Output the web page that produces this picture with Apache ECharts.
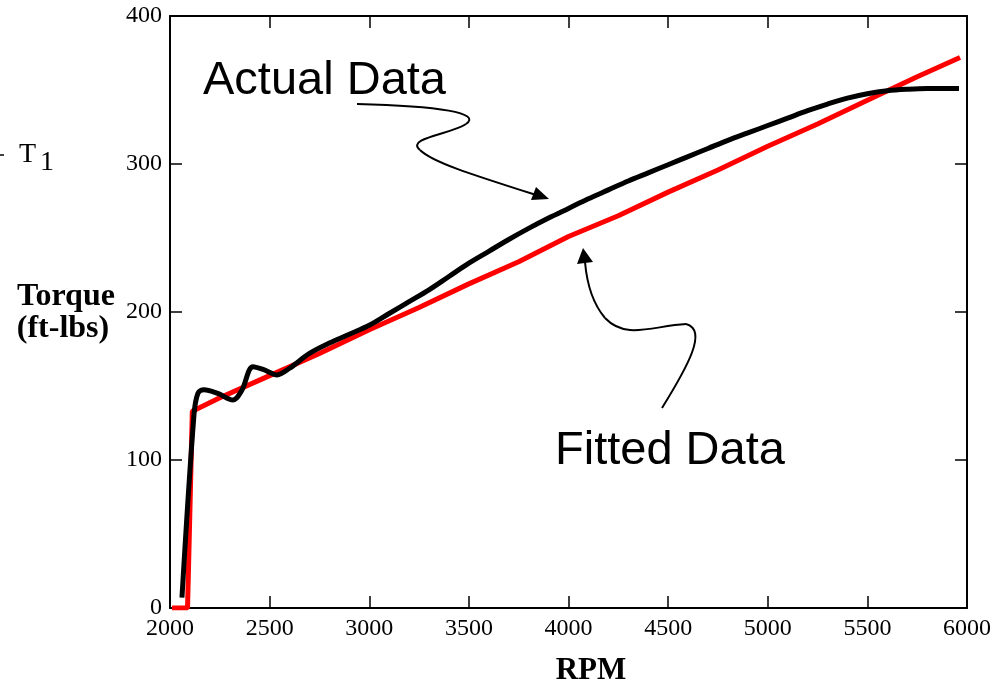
<!DOCTYPE html>
<html>
<head>
<meta charset="utf-8">
<script src="https://cdn.jsdelivr.net/npm/echarts@6/dist/echarts.min.js"></script>
<style>
html,body{margin:0;padding:0;background:#fff;}
#chart{width:997px;height:686px;}
</style>
</head>
<body>
<div id="chart"></div>
<script>
// Data
var fittedRpm = [2010, 2088, 2112, 2250, 2500, 2750, 3000, 3250, 3500, 3750, 4000, 4250, 4500, 4750, 5000, 5250, 5500, 5750, 5965];
var fittedTorque = [0, 0, 133, 142, 157, 172, 188, 203, 219, 234, 251, 265, 281, 296, 312, 327, 343, 359, 372];

var actualRpm = [2060, 2120, 2140, 2170, 2240, 2316, 2360, 2417, 2470, 2537, 2600, 2700, 2800, 2900, 3000, 3100, 3200, 3300, 3400, 3500, 3600, 3700, 3800, 3900, 4000, 4100, 4200, 4300, 4400, 4500, 4600, 4700, 4800, 4900, 5000, 5100, 5200, 5300, 5400, 5500, 5600, 5700, 5800, 5900, 5960];
var actualTorque = [7, 130, 145, 147.5, 145, 140.5, 147, 163, 161, 157.5, 162, 172, 179, 185, 191, 199, 207, 215, 224, 233, 241, 249, 256.5, 263.5, 270, 276.5, 282.5, 288.5, 294, 299.5, 305, 310.5, 316, 321, 326, 331, 336, 340.5, 344.5, 347.5, 349.5, 350.5, 351, 351, 351];

var xTicks = [2000, 2500, 3000, 3500, 4000, 4500, 5000, 5500, 6000];
var yTicks = [0, 100, 200, 300, 400];

function zip(a, b) { return a.map(function (v, i) { return [v, b[i]]; }); }

var serif = '"Liberation Serif", "Times New Roman", serif';
var sans = '"Liberation Sans", Arial, sans-serif';

var chart = echarts.init(document.getElementById('chart'), null, {renderer: 'canvas'});

function plain(v) { return String(v); }

function xAxisCfg(pos, showLabel) {
  return {
    type: 'value', position: pos, min: xTicks[0], max: xTicks[xTicks.length - 1], interval: 500,
    axisLine: {show: true, onZero: false, lineStyle: {color: '#000', width: 2}},
    axisTick: {show: true, inside: true, length: 12, lineStyle: {color: '#000', width: 1.5}},
    axisLabel: {show: showLabel, color: '#000', fontFamily: serif, fontSize: 24, margin: 9, formatter: plain},
    splitLine: {show: false}
  };
}
function yAxisCfg(pos, showLabel) {
  return {
    type: 'value', position: pos, min: yTicks[0], max: yTicks[yTicks.length - 1], interval: 100,
    axisLine: {show: true, onZero: false, lineStyle: {color: '#000', width: 2}},
    axisTick: {show: true, inside: true, length: 12, lineStyle: {color: '#000', width: 1.5}},
    axisLabel: {show: showLabel, color: '#000', fontFamily: serif, fontSize: 24, margin: 8, formatter: plain},
    splitLine: {show: false}
  };
}

function bez(x1, y1, c1x, c1y, c2x, c2y, x2, y2) {
  return {type: 'bezierCurve', shape: {x1: x1, y1: y1, cpx1: c1x, cpy1: c1y, cpx2: c2x, cpy2: c2y, x2: x2, y2: y2},
    style: {stroke: '#000', lineWidth: 2, fill: null}, silent: true};
}

var option = {
  animation: false,
  backgroundColor: '#fff',
  grid: {left: 170, right: 30, top: 16, bottom: 78, containLabel: false},
  xAxis: [xAxisCfg('bottom', true), xAxisCfg('top', false)],
  yAxis: [yAxisCfg('left', true), yAxisCfg('right', false)],
  series: [
    {type: 'line', name: 'Fitted Data', data: zip(fittedRpm, fittedTorque), showSymbol: false, symbol: 'none',
      lineStyle: {color: '#ff0000', width: 5}, z: 2},
    {type: 'line', name: 'Actual Data', data: zip(actualRpm, actualTorque), showSymbol: false, symbol: 'none', smooth: 0.35,
      lineStyle: {color: '#000', width: 5}, z: 3}
  ],
  graphic: [
    {type: 'text', left: 203, top: 58, style: {text: 'Actual Data', font: '47px ' + sans, fill: '#000'}},
    {type: 'text', left: 555, top: 428, style: {text: 'Fitted Data', font: '47px ' + sans, fill: '#000'}},
    {type: 'text', x: 591, y: 671, style: {text: 'RPM', font: 'bold 31px ' + serif, fill: '#000', align: 'center', verticalAlign: 'middle'}},
    {type: 'text', x: 66, y: 297, style: {text: 'Torque', font: 'bold 32px ' + serif, fill: '#000', align: 'center', verticalAlign: 'middle'}},
    {type: 'text', x: 63, y: 329, style: {text: '(ft-lbs)', font: 'bold 32px ' + serif, fill: '#000', align: 'center', verticalAlign: 'middle'}},
    {type: 'text', x: 19, y: 155, style: {text: 'T', font: '28px ' + serif, fill: '#000', verticalAlign: 'middle'}},
    {type: 'text', x: 40, y: 163, style: {text: '1', font: '28px ' + serif, fill: '#000', verticalAlign: 'middle'}},
    {type: 'line', shape: {x1: 0, y1: 155, x2: 4, y2: 155}, style: {stroke: '#000', lineWidth: 1.5}},
    // Actual Data arrow
    bez(357, 104, 440, 106, 482, 113, 466, 124),
    bez(466, 124, 452, 134, 405, 138, 420, 150),
    bez(420, 150, 432, 162, 470, 174, 536, 195),
    {type: 'polygon', shape: {points: [[549, 199], [531, 200], [536, 187]]}, style: {fill: '#000'}},
    // Fitted Data arrow
    bez(662, 408, 688, 366, 708, 330, 686, 324),
    bez(686, 324, 652, 326, 626, 340, 605, 318),
    bez(605, 318, 594, 305, 587, 285, 585, 262),
    {type: 'polygon', shape: {points: [[583, 248], [577, 264], [593, 262]]}, style: {fill: '#000'}}
  ]
};
chart.setOption(option);
</script>
</body>
</html>
